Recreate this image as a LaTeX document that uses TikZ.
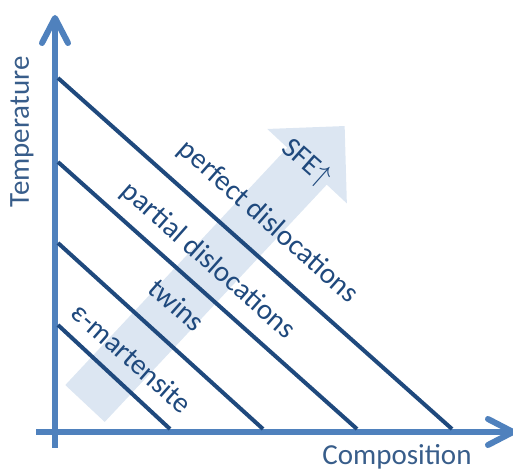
\documentclass[tikz,border=0pt]{standalone}
\usepackage{fontspec}
\setmainfont{Carlito}
\usepackage{tikz}
\usetikzlibrary{arrows.meta}
\definecolor{achse}{RGB}{79,129,189}
\definecolor{linie}{RGB}{31,73,125}
\definecolor{pfeil}{RGB}{220,230,242}
\definecolor{titel}{RGB}{56,93,138}

\begin{document}
\begin{tikzpicture}[x=0.5pt, y=0.5pt,
				>={Straight Barb[length=12.5pt,width=13pt,round]}, %Pfeilspitzen der Achsen
				grenze/.style={draw=linie, line width=2pt},
				beschr/.style={text=linie, rotate=-41.5, inner sep=0pt},
				font=\fontsize{14.5}{17}\selectfont]
				\useasboundingbox (0,0) rectangle (513,470);
				%SFE-Pfeil im Hintergrund
				\begin{scope}[shift={(85,66.5)}, rotate=46.9]
					\fill[pfeil] (0,-27) -- (325,-27) -- (325,-54.5) -- (380,0) -- (325,54.5) -- (325,27) -- (0,27) -- cycle;
				\end{scope}
				% Achsen
				\coordinate (yfuss) at (55,22);
				\coordinate (yspitze) at (55,455);
				\coordinate (xfuss) at (36,38);
				\coordinate (xspitze) at (516,38);
				\draw[->, draw=achse, line width=3pt] (yfuss) -- (yspitze);
				\draw[->, draw=achse, line width=3pt] (xfuss) -- (xspitze);
				\node[titel, rotate=90] (temp) at (22,338) {Temperature};
				\node[titel, anchor=base] (komp) at (397,5) {Composition};
				%Grenzlinien
				\foreach \ya/\xb in {392/452, 308/357, 227/263, 145/170}
					\draw[grenze] (58,\ya) -- (\xb,41);
				%Beschriftung
				\node[beschr] (perfekt) at (268,248) {perfect dislocations};
				\node[beschr] (partiell) at (208,209) {partial dislocations};
				\node[beschr] (zwill) at (177,165) {twins};
				\node[beschr] (eps) at (132,112) {ε-martensite};
				\node[beschr] (sfe) at (306,307) {SFE$\uparrow$};
			\end{tikzpicture}
\end{document}
